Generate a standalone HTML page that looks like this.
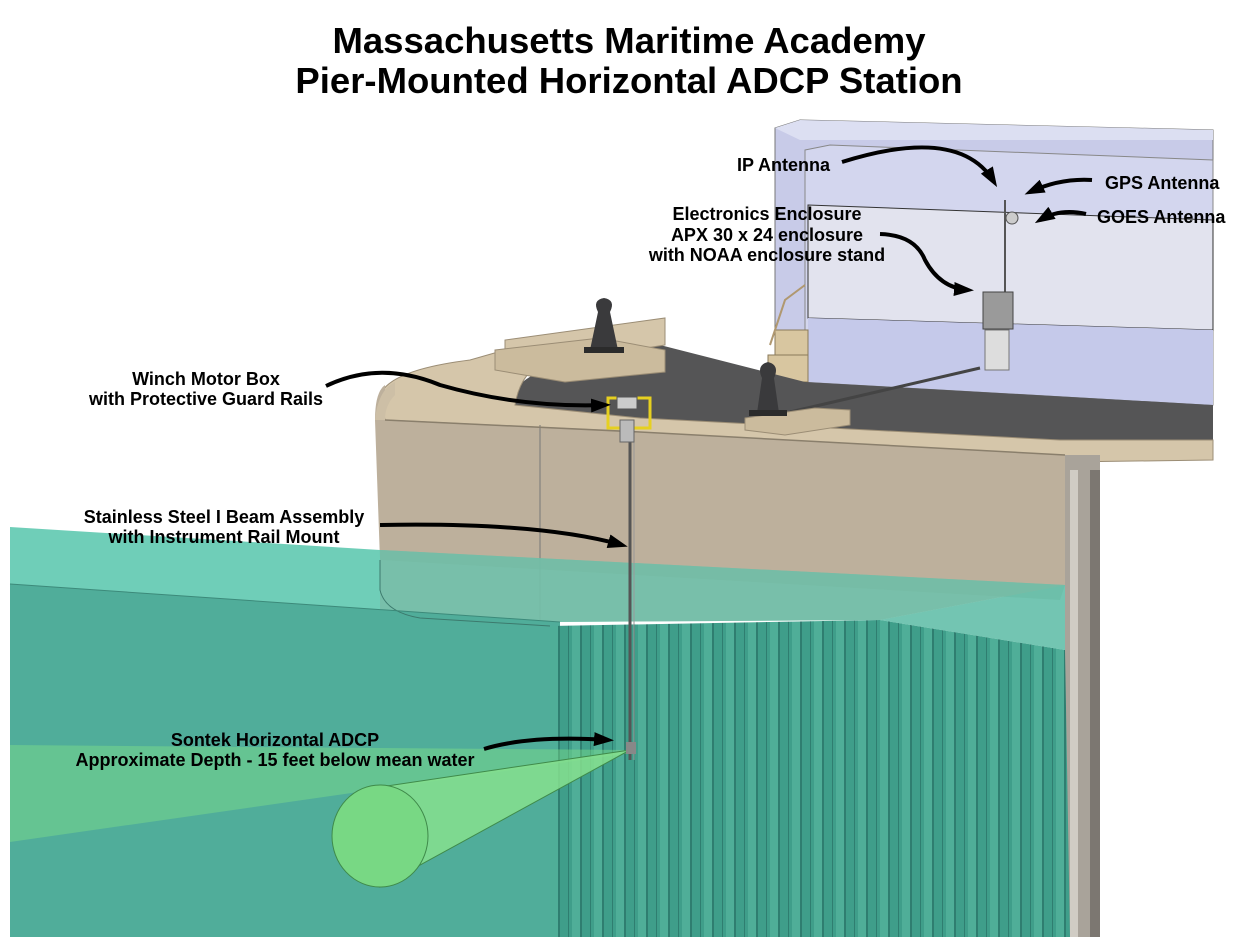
<!DOCTYPE html>
<html><head><meta charset="utf-8"><style>
html,body{margin:0;padding:0;background:#fff;}
svg{display:block;}
text{font-family:"Liberation Sans",Arial,sans-serif;font-weight:bold;fill:#000;}
</style></head><body>
<svg width="1240" height="947" viewBox="0 0 1240 947" xmlns="http://www.w3.org/2000/svg">
<defs>
<marker id="ah" markerWidth="20" markerHeight="14" refX="14" refY="7" orient="auto" markerUnits="userSpaceOnUse">
<path d="M0,0 L20,7 L0,14 z" fill="#000"/></marker>
<pattern id="piles" width="22" height="10" patternUnits="userSpaceOnUse">
<rect width="22" height="10" fill="#3f9e8a"/>
<rect x="0" width="8" height="10" fill="#4fae98"/>
<rect x="8" width="2" height="10" fill="#2f7e70"/>
<rect x="18" width="1" height="10" fill="#2f7e70"/>
</pattern>
</defs>
<rect width="1240" height="947" fill="#fff"/>

<!-- Title -->
<text x="629" y="53" font-size="36.5" text-anchor="middle">Massachusetts Maritime Academy</text>
<text x="629" y="93" font-size="36.5" text-anchor="middle">Pier-Mounted Horizontal ADCP Station</text>

<!-- Building -->
<polygon points="775,128 800,120 1213,130 1213,405 775,382" fill="#c8cbe8" stroke="#777" stroke-width="1"/>
<polygon points="775,128 800,120 1213,130 1213,140 800,140" fill="#dcdff2"/>
<polygon points="805,150 830,145 1213,160 1213,405 805,382" fill="#d3d6ee" stroke="#888" stroke-width="1"/>
<polygon points="808,205 1213,220 1213,330 808,318" fill="#e2e3ee" stroke="#333" stroke-width="1"/>
<polygon points="808,318 1213,330 1213,405 808,382" fill="#c5c9ea"/>
<!-- stairs -->
<polygon points="768,355 808,355 808,382 768,382" fill="#d8c6a0" stroke="#8a7a5a"/>
<polygon points="775,330 808,330 808,355 775,355" fill="#d8c6a0" stroke="#8a7a5a"/>
<polyline points="770,345 785,300 805,285" fill="none" stroke="#b09870" stroke-width="2"/>

<!-- Asphalt deck -->
<path d="M510,400 Q520,360 660,345 L805,382 L1213,405 L1213,440 L1060,440 L640,420 L520,412 Z" fill="#555556"/>
<polyline points="790,412 980,368" stroke="#444" stroke-width="3" fill="none"/>

<!-- Coping / deck slabs -->
<path d="M380,395 Q390,370 470,360 L505,350 L505,340 L665,318 L665,345 L540,365 Q520,375 515,405 L640,418 L1060,440 L1213,440 L1213,460 L1065,462 L640,432 L385,420 Z" fill="#d5c6aa" stroke="#9b8d75" stroke-width="1"/>
<polygon points="495,350 600,338 665,350 665,372 565,382 495,370" fill="#cbbb9d" stroke="#9b8d75"/>
<polygon points="745,418 815,408 850,410 850,425 785,435 745,430" fill="#cbbb9d" stroke="#9b8d75"/>

<!-- Bollards -->
<path d="M590,350 L598,312 Q592,300 604,298 Q616,300 610,312 L618,350 Z" fill="#3a3a3c"/>
<rect x="584" y="347" width="40" height="6" fill="#2b2b2b"/>
<path d="M757,413 L762,378 Q756,365 768,362 Q780,365 774,378 L779,413 Z" fill="#3a3a3c"/>
<rect x="749" y="410" width="38" height="6" fill="#2b2b2b"/>

<!-- Concrete wall -->
<path d="M375,420 Q375,392 385,385 L385,420 L640,432 L1065,455 L1065,585 L1060,600 L380,560 Z" fill="#bdb09c"/>
<path d="M375,420 Q378,390 395,382 L395,395 Q385,405 385,420 Z" fill="#cdbfa6"/>
<line x1="540" y1="425" x2="540" y2="620" stroke="#777" stroke-width="1"/>
<polyline points="385,420 640,432 1065,455" fill="none" stroke="#8a7f6c" stroke-width="1.5"/>

<!-- Right column -->
<rect x="1065" y="455" width="35" height="482" fill="#a9a39a"/>
<rect x="1070" y="470" width="8" height="467" fill="#d0ccc4"/>
<rect x="1090" y="470" width="10" height="467" fill="#7c7771"/>

<!-- Water top surface -->
<polygon points="10,527 380,550 1065,585 880,620 560,622 10,584" fill="#5fc9b0" fill-opacity="0.9"/>
<polygon points="380,550 1065,585 1065,650 880,620 540,622 380,612" fill="#7fb5a0" fill-opacity="0.6"/>
<!-- Water front -->
<polygon points="10,584 560,622 560,937 10,937" fill="#50ad9a"/>
<path d="M380,560 L380,590 Q385,612 420,618 L550,626" fill="none" stroke="#3c7a6d" stroke-width="1"/>
<polygon points="550,626 880,620 1065,650 1070,937 550,937" fill="url(#piles)"/>
<polygon points="880,620 1065,585 1065,650" fill="#63c2ad" fill-opacity="0.8"/>
<line x1="10" y1="584" x2="560" y2="622" stroke="#3c8a7a" stroke-width="1"/>

<!-- I beam -->
<line x1="630" y1="420" x2="630" y2="760" stroke="#555" stroke-width="3"/>
<line x1="634" y1="420" x2="634" y2="760" stroke="#999" stroke-width="1"/>
<!-- winch box -->
<rect x="608" y="398" width="42" height="30" fill="none" stroke="#e6d020" stroke-width="3"/>
<rect x="617" y="397" width="20" height="12" fill="#ccc" stroke="#555"/>
<rect x="620" y="420" width="14" height="22" fill="#bbb" stroke="#666"/>
<!-- enclosure -->
<line x1="1005" y1="200" x2="1005" y2="300" stroke="#555" stroke-width="2"/>
<rect x="983" y="292" width="30" height="37" fill="#9a9a9a" stroke="#444"/>
<rect x="985" y="330" width="24" height="40" fill="#ddd" stroke="#777"/>
<circle cx="1012" cy="218" r="6" fill="#ccc" stroke="#555"/>

<!-- ADCP beam -->
<polygon points="10,745 630,750 630,753 10,842" fill="#7fe08a" fill-opacity="0.45"/>
<polygon points="630,750 380,787 380,887" fill="#86e08e" fill-opacity="0.85" stroke="#3f8a4a" stroke-width="1"/>
<ellipse cx="380" cy="836" rx="48" ry="51" fill="#78d884" stroke="#3f8a4a" stroke-width="1"/>
<rect x="626" y="742" width="10" height="12" fill="#888"/>

<!-- Labels -->
<g font-size="18">
<text x="830" y="171" text-anchor="end">IP Antenna</text>
<text x="1105" y="189">GPS Antenna</text>
<text x="1097" y="223">GOES Antenna</text>
<text x="767" y="220" text-anchor="middle">Electronics Enclosure</text>
<text x="767" y="241" text-anchor="middle">APX 30 x 24 enclosure</text>
<text x="767" y="261" text-anchor="middle">with NOAA enclosure stand</text>
<text x="206" y="385" text-anchor="middle">Winch Motor Box</text>
<text x="206" y="405" text-anchor="middle">with Protective Guard Rails</text>
<text x="224" y="523" text-anchor="middle">Stainless Steel I Beam Assembly</text>
<text x="224" y="543" text-anchor="middle">with Instrument Rail Mount</text>
<text x="275" y="746" text-anchor="middle">Sontek Horizontal ADCP</text>
<text x="275" y="766" text-anchor="middle">Approximate Depth - 15 feet below mean water</text>
</g>

<!-- Arrows -->
<g fill="none" stroke="#000" stroke-width="4" marker-end="url(#ah)">
<path d="M842,162 Q960,125 994,182"/>
<path d="M1092,180 Q1060,178 1030,192"/>
<path d="M1086,214 Q1060,208 1040,220"/>
<path d="M880,234 Q915,235 925,260 Q940,288 968,290"/>
<path d="M326,386 Q380,360 440,385 Q520,408 605,405"/>
<path d="M380,525 Q540,522 622,545"/>
<path d="M484,749 Q530,735 608,740"/>
</g>
</svg>
</body></html>
